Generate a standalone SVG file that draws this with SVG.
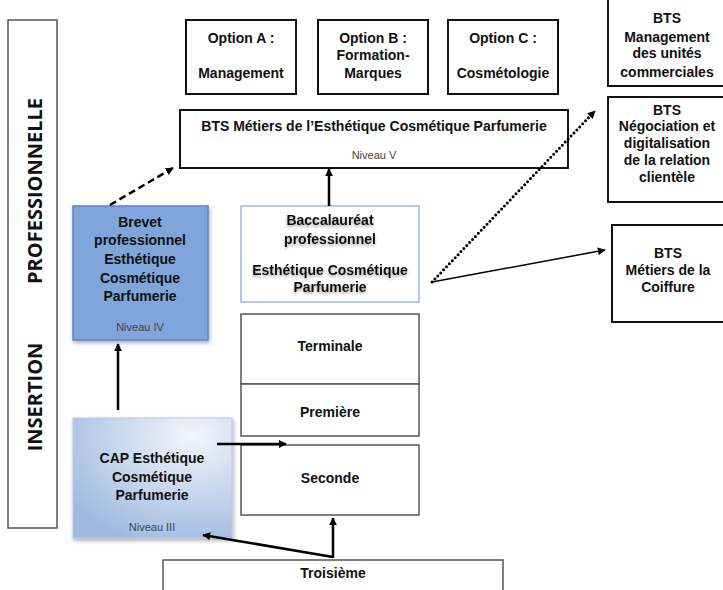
<svg xmlns="http://www.w3.org/2000/svg" width="723" height="590" viewBox="0 0 723 590">
<defs>
<style>
.b{font-family:"Liberation Sans",Arial,sans-serif;font-weight:700;font-size:14px;fill:#111;text-anchor:middle}
.s{font-family:"Liberation Sans",Arial,sans-serif;font-size:11px;fill:#444;text-anchor:middle}
.v{font-family:"Open Sans","DejaVu Sans",sans-serif;font-weight:700;font-size:20px;fill:#111;text-anchor:middle}
.box{fill:#fff;stroke:#111;stroke-width:2}
.grey{fill:#fff;stroke:#555;stroke-width:1.5}
.con{stroke:#000;fill:none}
</style>
<radialGradient id="capg" cx="0.75" cy="0.15" r="0.95">
<stop offset="0" stop-color="#f2f6fb"/>
<stop offset="1" stop-color="#9fb9df"/>
</radialGradient>
<filter id="sh" x="-10%" y="-10%" width="125%" height="125%">
<feGaussianBlur in="SourceAlpha" stdDeviation="2"/>
<feOffset dx="1" dy="2" result="o"/>
<feComponentTransfer><feFuncA type="linear" slope="0.35"/></feComponentTransfer>
<feMerge><feMergeNode/><feMergeNode in="SourceGraphic"/></feMerge>
</filter>
<filter id="tsh" x="-10%" y="-30%" width="120%" height="160%">
<feGaussianBlur in="SourceAlpha" stdDeviation="1.5"/>
<feOffset dx="0" dy="1.5"/>
<feComponentTransfer><feFuncA type="linear" slope="0.35"/></feComponentTransfer>
<feMerge><feMergeNode/><feMergeNode in="SourceGraphic"/></feMerge>
</filter>
<marker id="ahs" viewBox="0 0 10 10" refX="9" refY="5" markerWidth="8" markerHeight="8" orient="auto" markerUnits="userSpaceOnUse">
<path d="M0,0 L10,5 L0,10 z" fill="#000"/>
</marker>
</defs>
<rect width="723" height="590" fill="#fff"/>

<g id="insertion">
<rect x="8" y="20" width="49" height="508" fill="#fff" stroke="#555" stroke-width="1.5"/>
<text class="v" transform="translate(42,191) rotate(-90)">PROFESSIONNELLE</text>
<text class="v" transform="translate(42,397) rotate(-90)">INSERTION</text>
</g>

<g id="optionA">
<rect class="box" x="186" y="20" width="110" height="74"/>
<text class="b" x="241" y="43">Option A :</text>
<text class="b" x="241" y="78">Management</text>
</g>
<g id="optionB">
<rect class="box" x="318" y="20" width="110" height="74"/>
<text class="b" x="373" y="43">Option B :</text>
<text class="b" x="373" y="60">Formation-</text>
<text class="b" x="373" y="78">Marques</text>
</g>
<g id="optionC">
<rect class="box" x="448" y="20" width="110" height="74"/>
<text class="b" x="503" y="43">Option C :</text>
<text class="b" x="503" y="78">Cosmétologie</text>
</g>

<g id="btsMECP">
<rect class="box" x="180" y="110" width="388" height="58"/>
<text class="b" x="374" y="131">BTS Métiers de l’Esthétique Cosmétique Parfumerie</text>
<text class="s" x="374" y="159">Niveau V</text>
</g>

<g id="btsMUC">
<rect class="box" x="608" y="-5" width="130" height="91"/>
<text class="b" x="667" y="23">BTS</text>
<text class="b" x="667" y="42">Management</text>
<text class="b" x="667" y="58">des unités</text>
<text class="b" x="667" y="77">commerciales</text>
</g>
<g id="btsNDRC">
<rect class="box" x="608" y="97" width="130" height="105"/>
<text class="b" x="667" y="115">BTS</text>
<text class="b" x="667" y="131">Négociation et</text>
<text class="b" x="667" y="148">digitalisation</text>
<text class="b" x="667" y="165">de la relation</text>
<text class="b" x="667" y="182">clientèle</text>
</g>
<g id="btsCoiffure">
<rect class="box" x="612" y="225" width="126" height="97"/>
<text class="b" x="668" y="258">BTS</text>
<text class="b" x="668" y="275">Métiers de la</text>
<text class="b" x="668" y="292">Coiffure</text>
</g>

<g id="brevet">
<rect x="73" y="206" width="135" height="134" fill="#7fa5da" stroke="#5b87c9" stroke-width="1.5" filter="url(#sh)"/>
<text class="b" x="140" y="227">Brevet</text>
<text class="b" x="140" y="245">professionnel</text>
<text class="b" x="140" y="264">Esthétique</text>
<text class="b" x="140" y="283">Cosmétique</text>
<text class="b" x="140" y="301">Parfumerie</text>
<text class="s" x="140" y="331">Niveau IV</text>
</g>

<g id="bacpro">
<rect x="241" y="206" width="178" height="96" fill="#fff" stroke="#9db8e2" stroke-width="1.5"/>
<g filter="url(#tsh)">
<text class="b" x="330" y="225">Baccalauréat</text>
<text class="b" x="330" y="244">professionnel</text>
<text class="b" x="330" y="275">Esthétique Cosmétique</text>
<text class="b" x="330" y="292">Parfumerie</text>
</g>
</g>

<g id="terminale">
<rect class="grey" x="241" y="314" width="178" height="70"/>
<text class="b" x="330" y="351">Terminale</text>
</g>
<g id="premiere">
<rect class="grey" x="241" y="384" width="178" height="52"/>
<text class="b" x="330" y="417">Première</text>
</g>
<g id="seconde">
<rect class="grey" x="241" y="445" width="178" height="70"/>
<text class="b" x="330" y="483">Seconde</text>
</g>

<g id="cap">
<rect x="73" y="418" width="159" height="120" fill="url(#capg)" stroke="#b9cbe6" stroke-width="1" filter="url(#sh)"/>
<text class="b" x="152" y="463">CAP Esthétique</text>
<text class="b" x="152" y="482">Cosmétique</text>
<text class="b" x="152" y="500">Parfumerie</text>
<text class="s" x="152" y="531">Niveau III</text>
</g>

<g id="troisieme">
<rect class="grey" x="163" y="560" width="340" height="40"/>
<text class="b" x="333" y="578">Troisième</text>
</g>

<g id="connectors">
<line class="con" x1="110" y1="205" x2="173" y2="168" stroke-width="2.5" stroke-dasharray="7,4" marker-end="url(#ahs)"/>
<line class="con" x1="329" y1="206" x2="329" y2="169" stroke-width="2.5" marker-end="url(#ahs)"/>
<line class="con" x1="432" y1="282" x2="592" y2="114" stroke-width="3" stroke-linecap="round" stroke-dasharray="0,4.2"/>
<line class="con" x1="590" y1="116" x2="595" y2="111" stroke-width="1" marker-end="url(#ahs)"/>
<line class="con" x1="432" y1="282" x2="605" y2="250" stroke-width="1.5" marker-end="url(#ahs)"/>
<line class="con" x1="118" y1="410" x2="118" y2="344" stroke-width="2.5" marker-end="url(#ahs)"/>
<line class="con" x1="217" y1="444" x2="286" y2="444" stroke-width="2.5" marker-end="url(#ahs)"/>
<line class="con" x1="333" y1="558" x2="333" y2="518" stroke-width="2.5" marker-end="url(#ahs)"/>
<line class="con" x1="333" y1="557" x2="203" y2="535" stroke-width="2.5" marker-end="url(#ahs)"/>
</g>
</svg>
